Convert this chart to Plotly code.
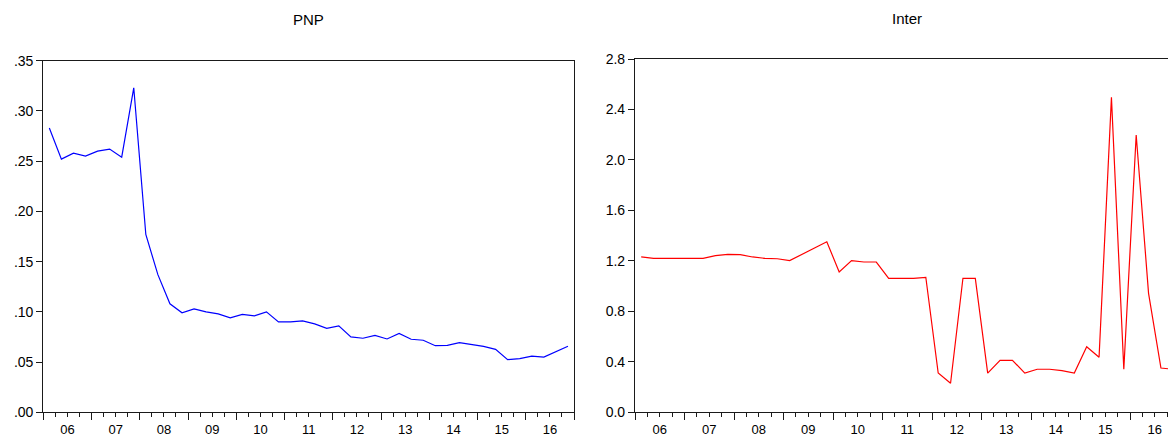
import plotly.graph_objects as go

# Quarterly series, 2006Q1 .. 2016Q4
years = ["06", "07", "08", "09", "10", "11", "12", "13", "14", "15", "16"]

pnp = [0.283, 0.252, 0.258, 0.255, 0.260, 0.262, 0.254, 0.323,
       0.177, 0.137, 0.108, 0.099, 0.103, 0.100, 0.098, 0.094,
       0.0975, 0.096, 0.100, 0.090, 0.090, 0.091, 0.088, 0.0836,
       0.086, 0.075, 0.0737, 0.0766, 0.073, 0.0786, 0.0727, 0.0717,
       0.0663, 0.0667, 0.0693, 0.0677, 0.0657, 0.0627, 0.0524, 0.0534,
       0.056, 0.055, 0.060, 0.0657]

inter = [1.231, 1.220, 1.220, 1.220, 1.220, 1.220, 1.241, 1.252,
         1.249, 1.231, 1.220, 1.217, 1.202, 1.252, 1.302, 1.352,
         1.112, 1.202, 1.191, 1.191, 1.062, 1.062, 1.062, 1.070,
         0.311, 0.230, 1.062, 1.062, 0.311, 0.412, 0.412, 0.311,
         0.341, 0.341, 0.330, 0.311, 0.520, 0.436, 2.496, 0.341,
         2.198, 0.943, 0.351, 0.341]

pnp_ticks = [0.00, 0.05, 0.10, 0.15, 0.20, 0.25, 0.30, 0.35]
inter_ticks = [0.0, 0.4, 0.8, 1.2, 1.6, 2.0, 2.4, 2.8]

W, H = 1168, 437
FONT = "Liberation Sans, Arial, sans-serif"
AX = "#1a1a1a"

n = len(pnp)
idx = list(range(n))
full_range = [-0.5, n - 0.5]
year_bounds = [q - 0.5 for q in range(0, n + 1, 4)]
quarter_bounds = [q - 0.5 for q in range(0, n + 1)]
year_centers = [q + 1.5 for q in range(0, n, 4)]

# Panel frames in pixels (left, right, top, bottom)
L_FRAME = (43.3, 574.0, 60.7, 412.3)
R_FRAME = (635.0, 1179.5, 59.0, 412.3)   # right frame runs past the page edge

def xdom(fr, clip=W):
    return [fr[0] / W, min(fr[1], clip) / W]

def ydom(fr):
    return [(H - fr[3]) / H, (H - fr[2]) / H]

# visible part of the right panel's time range
r_visible = (min(R_FRAME[1], W) - R_FRAME[0]) / (R_FRAME[1] - R_FRAME[0])
r_range = [full_range[0], full_range[0] + r_visible * (full_range[1] - full_range[0])]

fig = go.Figure()
fig.add_trace(go.Scatter(x=idx, y=pnp, mode="lines", xaxis="x", yaxis="y",
                         line=dict(color="#0000ff", width=1.2), showlegend=False))
fig.add_trace(go.Scatter(x=idx, y=inter, mode="lines", xaxis="x2", yaxis="y2",
                         line=dict(color="#ff0000", width=1.2), showlegend=False))
# carriers for the year-label axes
fig.add_trace(go.Scatter(x=[], y=[], xaxis="x3", yaxis="y", showlegend=False))
fig.add_trace(go.Scatter(x=[], y=[], xaxis="x4", yaxis="y2", showlegend=False))

def tick_axis(dom, rng, anchor, mirror):
    return dict(domain=dom, range=rng, anchor=anchor, showgrid=False, zeroline=False,
                showline=True, linecolor=AX, linewidth=1.2, mirror=mirror,
                tickmode="array", tickvals=year_bounds, showticklabels=False,
                ticks="outside", ticklen=7, tickcolor=AX, tickwidth=1,
                minor=dict(tickmode="array", tickvals=quarter_bounds, ticks="outside",
                           ticklen=4, tickcolor=AX, tickwidth=1, showgrid=False),
                automargin=False, fixedrange=True)

def label_axis(dom, rng, anchor, over):
    return dict(domain=dom, range=rng, anchor=anchor, overlaying=over,
                showgrid=False, zeroline=False, showline=False,
                tickmode="array", tickvals=year_centers, ticktext=years,
                ticks="outside", ticklen=5, tickcolor="rgba(0,0,0,0)",
                tickfont=dict(family=FONT, size=13, color="#000"),
                automargin=False, fixedrange=True)

def y_axis(dom, ticks, text, anchor, mirror):
    return dict(domain=dom, range=[ticks[0], ticks[-1]], anchor=anchor,
                showgrid=False, zeroline=False, showline=True, linecolor=AX,
                linewidth=1.2, mirror=mirror, tickmode="array", tickvals=ticks,
                ticktext=text, ticks="outside", ticklen=6, tickcolor=AX,
                tickfont=dict(family=FONT, size=14, color="#000"),
                automargin=False, fixedrange=True)

pnp_text = [f"{v:.2f}"[1:] for v in pnp_ticks]
inter_text = [f"{v:.1f}" for v in inter_ticks]

fig.update_layout(
    width=W, height=H,
    margin=dict(l=0, r=0, t=0, b=0),
    paper_bgcolor="white", plot_bgcolor="white",
    font=dict(family=FONT, size=14, color="#000"),
    xaxis=tick_axis(xdom(L_FRAME), full_range, "y", True),
    yaxis=y_axis(ydom(L_FRAME), pnp_ticks, pnp_text, "x", True),
    xaxis2=tick_axis(xdom(R_FRAME), r_range, "y2", True),
    yaxis2=y_axis(ydom(R_FRAME), inter_ticks, inter_text, "x2", False),
    xaxis3=label_axis(xdom(L_FRAME), full_range, "y", "x"),
    xaxis4=label_axis(xdom(R_FRAME), r_range, "y2", "x2"),
    annotations=[
        dict(text="PNP", x=(L_FRAME[0] + L_FRAME[1]) / 2 / W, y=1 - 19.5 / H,
             xref="paper", yref="paper", showarrow=False, xanchor="center",
             yanchor="middle", font=dict(family=FONT, size=15, color="#000")),
        dict(text="Inter", x=(R_FRAME[0] + R_FRAME[1]) / 2 / W, y=1 - 18.5 / H,
             xref="paper", yref="paper", showarrow=False, xanchor="center",
             yanchor="middle", font=dict(family=FONT, size=15, color="#000")),
    ],
)

fig.write_html("out.html")
